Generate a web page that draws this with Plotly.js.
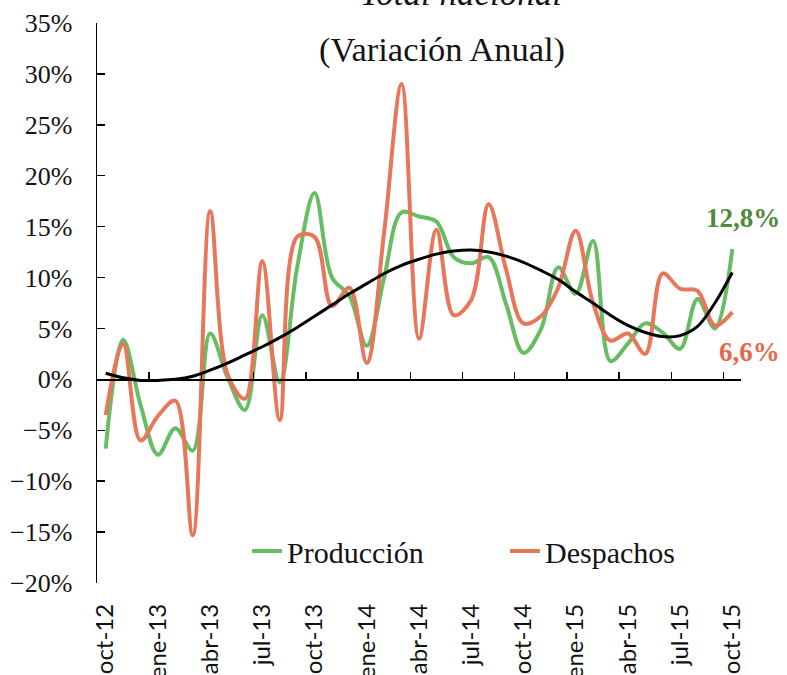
<!DOCTYPE html>
<html>
<head>
<meta charset="utf-8">
<script src="https://cdn.plot.ly/plotly-3.0.1.min.js"></script>
<style>
  html, body { margin: 0; padding: 0; background: #ffffff; }
  #chart { width: 787px; height: 675px; }
</style>
</head>
<body>
<div id="chart"></div>
<script>
const months = [
  "oct-12","nov-12","dic-12","ene-13","feb-13","mar-13","abr-13","may-13","jun-13",
  "jul-13","ago-13","sep-13","oct-13","nov-13","dic-13","ene-14","feb-14","mar-14",
  "abr-14","may-14","jun-14","jul-14","ago-14","sep-14","oct-14","nov-14","dic-14",
  "ene-15","feb-15","mar-15","abr-15","may-15","jun-15","jul-15","ago-15","sep-15","oct-15"
];

const produccion = [
  -6.8, 3.9, -2.5, -7.4, -4.8, -7.0, 4.5, 0.2, -3.0,
  6.3, -0.3, 11.0, 18.3, 10.0, 8.2, 3.3, 10.0, 16.4,
  16.0, 15.5, 12.0, 11.4, 12.0, 7.4, 2.6, 4.9, 11.0,
  8.4, 13.6, 1.8, 3.5, 5.5, 4.6, 3.0, 7.9, 5.0, 12.8
];

const despachos = [
  -3.5, 3.5, -6.0, -3.6, -2.1, -15.3, 16.5, 0.5, -1.9,
  11.6, -4.0, 14.0, 14.0, 7.2, 9.0, 1.6, 14.5, 29.0,
  4.0, 14.7, 6.3, 7.8, 17.2, 10.8, 5.5, 6.2, 9.0,
  14.6, 7.5, 3.8, 4.5, 2.5, 10.4, 8.9, 8.7, 5.3, 6.6
];

const tendencia = [
  0.6, 0.15, -0.1, -0.1, 0.0, 0.3, 0.9, 1.6, 2.4,
  3.2, 4.1, 5.1, 6.2, 7.3, 8.4, 9.4, 10.4, 11.2,
  11.8, 12.3, 12.6, 12.7, 12.5, 12.1, 11.5, 10.7, 9.8,
  8.6, 7.5, 6.3, 5.3, 4.6, 4.2, 4.3, 5.2, 7.5, 10.5
];

const yRange = [-20, 35];
const labelStep = 3;

const idx = months.map((_, i) => i);
const labelPos = idx.filter(i => i % labelStep === 0);
const labelText = labelPos.map(i => months[i]);
const tickMarksAll = labelPos.map(i => i - 0.5);

const fmt = v => v.toFixed(1).replace('.', ',') + '%';

const serif = 'Liberation Serif, Times New Roman, serif';
const sans = 'Lato, Liberation Sans, sans-serif';

const green = '#66bd64';
const red = '#e8765b';

const traces = [
  {
    x: idx, y: produccion, name: 'Producción', type: 'scatter', mode: 'lines',
    line: { color: green, width: 4, shape: 'spline', smoothing: 1 }
  },
  {
    x: idx, y: despachos, name: 'Despachos', type: 'scatter', mode: 'lines',
    line: { color: red, width: 4, shape: 'spline', smoothing: 1 }
  },
  {
    x: idx, y: tendencia, name: 'Tendencia', type: 'scatter', mode: 'lines',
    xaxis: 'x2', yaxis: 'y', showlegend: false,
    line: { color: '#000000', width: 3, shape: 'spline', smoothing: 1 }
  }
];

const zeroPos = (0 - yRange[0]) / (yRange[1] - yRange[0]);

const layout = {
  width: 787,
  height: 675,
  margin: { l: 97, r: 46, t: 23, b: 92, pad: 0 },
  paper_bgcolor: '#ffffff',
  plot_bgcolor: 'rgba(0,0,0,0)',
  showlegend: true,
  title: {
    text: '(Variación Anual)',
    font: { family: serif, size: 34.5, color: '#141414' },
    x: 442 / 787, xanchor: 'center',
    y: 1 - 49 / 675, yanchor: 'middle'
  },
  xaxis: {
    range: [-0.5, 36.5],
    tickmode: 'array',
    tickvals: labelPos,
    ticktext: labelText,
    tickangle: -90,
    ticks: '',
    showline: false,
    showgrid: false,
    zeroline: false,
    ticklabelstandoff: 15,
    tickfont: { family: sans, size: 24, color: '#111111' }
  },
  xaxis2: {
    overlaying: 'x',
    anchor: 'free',
    position: zeroPos,
    range: [-0.5, 36.5],
    tickmode: 'array',
    tickvals: tickMarksAll,
    ticks: 'inside',
    ticklen: 7,
    tickwidth: 1.5,
    tickcolor: '#000000',
    showline: true,
    linecolor: '#000000',
    linewidth: 1.5,
    showticklabels: false,
    showgrid: false,
    zeroline: false
  },
  yaxis: {
    range: yRange,
    tickmode: 'linear',
    tick0: 0,
    dtick: 5,
    ticksuffix: '%',
    showline: true,
    linecolor: '#000000',
    linewidth: 1.5,
    ticks: 'inside',
    ticklen: 8,
    tickwidth: 1.5,
    tickcolor: '#000000',
    showgrid: false,
    zeroline: false,
    ticklabelstandoff: 18,
    tickfont: { family: serif, size: 26, color: '#141414' }
  },
  legend: {
    orientation: 'h',
    x: (247 - 97) / 644,
    xanchor: 'left',
    y: (583 - 551) / 560,
    yanchor: 'middle',
    bgcolor: 'rgba(0,0,0,0)',
    entrywidth: 213,
    entrywidthmode: 'pixels',
    font: { family: serif, size: 30, color: '#141414' }
  },
  annotations: [
    {
      text: '<i>Total nacional</i>',
      xref: 'paper', yref: 'paper',
      x: (461 - 97) / 644, xanchor: 'center',
      y: (583 - 15) / 560, yanchor: 'bottom',
      showarrow: false,
      font: { family: serif, size: 35, color: '#141414' }
    },
    {
      text: '<b>' + fmt(produccion[produccion.length - 1]) + '</b>',
      xref: 'x', yref: 'y',
      x: idx[idx.length - 1], y: produccion[produccion.length - 1],
      xanchor: 'center', yanchor: 'middle',
      xshift: 11, yshift: 31,
      showarrow: false,
      font: { family: serif, size: 27, color: '#4e8a3a' }
    },
    {
      text: '<b>' + fmt(despachos[despachos.length - 1]) + '</b>',
      xref: 'x', yref: 'y',
      x: idx[idx.length - 1], y: despachos[despachos.length - 1],
      xanchor: 'center', yanchor: 'middle',
      xshift: 17, yshift: -40,
      showarrow: false,
      font: { family: serif, size: 27, color: '#e8674a' }
    }
  ]
};

Plotly.newPlot('chart', traces, layout, { displayModeBar: false, staticPlot: true });
</script>
</body>
</html>
